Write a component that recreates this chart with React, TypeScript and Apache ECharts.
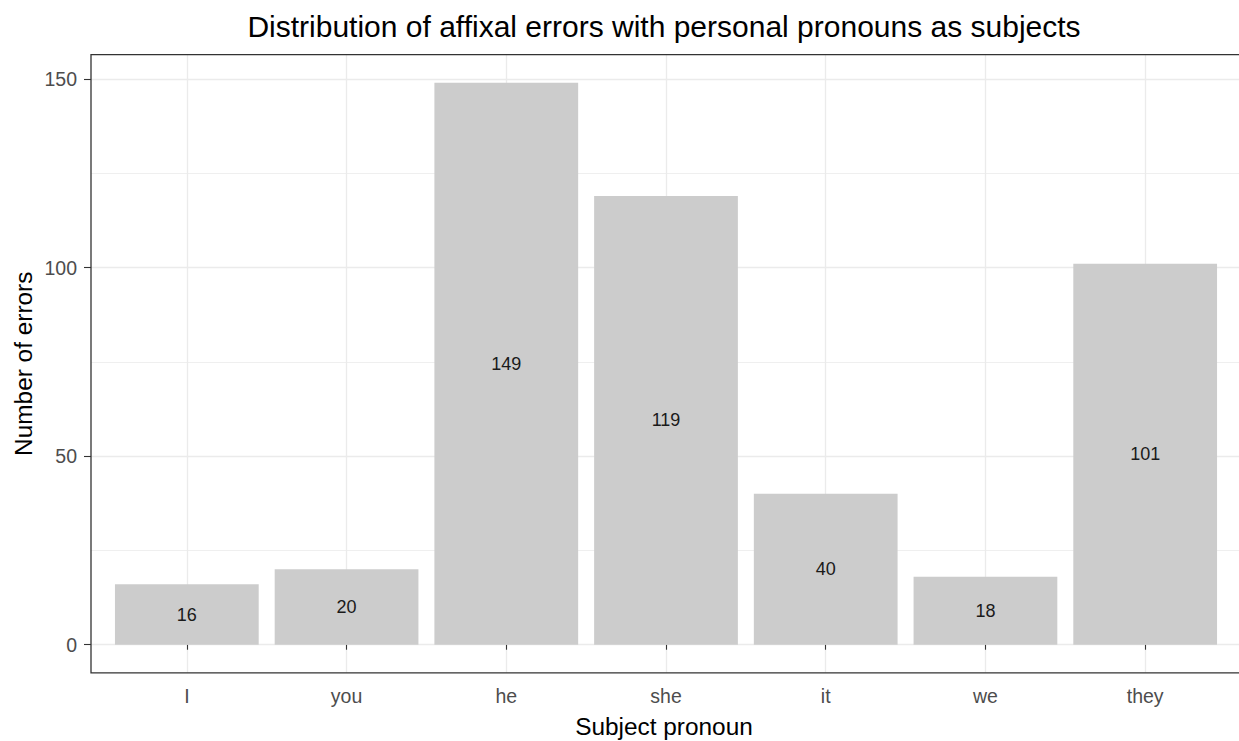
import React, { useEffect, useRef } from "react";
import * as echarts from "echarts";

const categories = ["I", "you", "he", "she", "it", "we", "they"];
const errorCounts = [16, 20, 149, 119, 40, 18, 101];
const yTickMin = 0;
const yTickMax = 150;
const yTickStep = 50;

const chartTitle = "Distribution of affixal errors with personal pronouns as subjects";
const xTitle = "Subject pronoun";
const yTitle = "Number of errors";

const FONT = "'Liberation Sans', Arial, sans-serif";

export default function App() {
  const ref = useRef<HTMLDivElement>(null);

  useEffect(() => {
    if (!ref.current) return;
    const chart = echarts.init(ref.current, null, { renderer: "svg" });

    // panel geometry (ggplot-like)
    const PANEL_LEFT = 91;
    const PANEL_RIGHT = 1241;
    const PANEL_TOP = 54.7;
    const PANEL_BOTTOM = 672.8;

    const n = categories.length;
    const band = (PANEL_RIGHT - PANEL_LEFT) / (n - 1 + 1.2);
    const dataMax = Math.max(...errorCounts);
    const yMin = -0.05 * dataMax;
    const yMax = dataMax * 1.05;
    const pxPerUnit = (PANEL_BOTTOM - PANEL_TOP) / (yMax - yMin);

    const gridC = {
      left: PANEL_LEFT,
      width: PANEL_RIGHT - PANEL_LEFT,
      top: PANEL_TOP + (yMax - yTickMax) * pxPerUnit,
      height: (yTickMax - yTickMin) * pxPerUnit,
    };
    const gridD = {
      left: PANEL_LEFT + 0.6 * band,
      width: (n - 1) * band,
      top: PANEL_TOP,
      height: PANEL_BOTTOM - PANEL_TOP,
    };

    const option: any = {
      animation: false,
      backgroundColor: "#ffffff",
      grid: [
        { ...gridC, containLabel: false },
        { ...gridD, containLabel: false },
      ],
      xAxis: [
        { type: "value", gridIndex: 0, show: false, min: 0, max: 1 },
        {
          type: "category",
          gridIndex: 1,
          data: categories,
          boundaryGap: false,
          position: "bottom",
          axisLine: { show: false },
          axisTick: { show: true, length: 5, lineStyle: { color: "#333333", width: 1.1 } },
          axisLabel: { color: "#4D4D4D", fontSize: 19.5, fontFamily: FONT, margin: 13 },
          splitLine: { show: true, lineStyle: { color: "#EBEBEB", width: 1.3 } },
        },
      ],
      yAxis: [
        {
          type: "value",
          gridIndex: 0,
          min: yTickMin,
          max: yTickMax,
          interval: yTickStep,
          axisLine: { show: false },
          axisTick: { show: true, length: 7, lineStyle: { color: "#333333", width: 1.1 } },
          axisLabel: { color: "#4D4D4D", fontSize: 19.5, fontFamily: FONT, margin: 14 },
          splitLine: { show: true, lineStyle: { color: "#EBEBEB", width: 1.3 } },
          minorTick: { show: false, splitNumber: 2 },
          minorSplitLine: { show: true, lineStyle: { color: "#EBEBEB", width: 0.8 } },
        },
        { type: "value", gridIndex: 1, show: false, min: yMin, max: yMax },
      ],
      series: [
        {
          type: "bar",
          xAxisIndex: 1,
          yAxisIndex: 1,
          data: errorCounts,
          barWidth: 0.9 * band,
          clip: false,
          itemStyle: { color: "#CCCCCC" },
          label: {
            show: true,
            position: "inside",
            color: "#1A1A1A",
            fontSize: 18,
            fontFamily: FONT,
          },
        },
      ],
      graphic: [
        {
          type: "rect",
          silent: true,
          z: 100,
          shape: {
            x: PANEL_LEFT,
            y: PANEL_TOP,
            width: PANEL_RIGHT + 4 - PANEL_LEFT,
            height: PANEL_BOTTOM - PANEL_TOP,
          },
          style: { fill: "none", stroke: "#333333", lineWidth: 1.3 },
        },
        {
          type: "text",
          x: 664,
          y: 26,
          style: {
            text: chartTitle,
            fill: "#000000",
            fontSize: 30,
            fontFamily: FONT,
            textAlign: "center",
            textVerticalAlign: "middle",
          },
        },
        {
          type: "text",
          x: 664,
          y: 726,
          style: {
            text: xTitle,
            fill: "#000000",
            fontSize: 24.4,
            fontFamily: FONT,
            textAlign: "center",
            textVerticalAlign: "middle",
          },
        },
        {
          type: "text",
          x: 23,
          y: (PANEL_TOP + PANEL_BOTTOM) / 2,
          rotation: Math.PI / 2,
          style: {
            text: yTitle,
            fill: "#000000",
            fontSize: 24.4,
            fontFamily: FONT,
            textAlign: "center",
            textVerticalAlign: "middle",
          },
        },
      ],
    };

    chart.setOption(option);
    return () => chart.dispose();
  }, []);

  return (
    <div
      ref={ref}
      style={{ position: "fixed", left: 0, top: 0, width: 1239, height: 741 }}
    />
  );
}
